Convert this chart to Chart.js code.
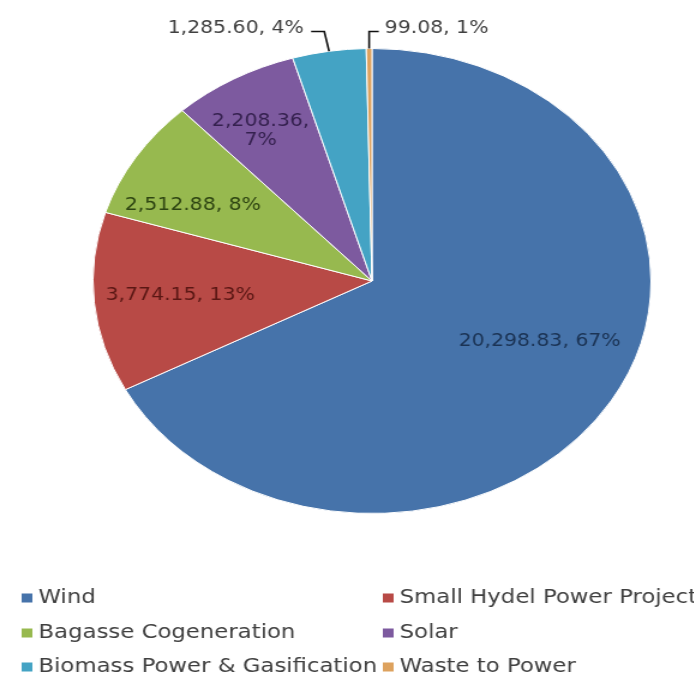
<!DOCTYPE html>
<html>
<head>
<meta charset="utf-8">
<script src="https://cdn.jsdelivr.net/npm/chart.js@4.4.1/dist/chart.umd.min.js"></script>
<style>
    html, body { margin: 0; padding: 0; background: #fff; overflow: hidden; }
    /* the source picture is stretched sideways, so the whole chart is too */
    #wrap { width: 578px; height: 686px; transform: scaleX(1.2); transform-origin: 0 0; }
</style>
</head>
<body>
<div id="wrap"><canvas id="powerChart" width="578" height="686"></canvas></div>
<script>
const sources = ['Wind', 'Small Hydel Power Projects', 'Bagasse Cogeneration', 'Solar', 'Biomass Power & Gasification', 'Waste to Power'];
const capacity = [20298.83, 3774.15, 2512.88, 2208.36, 1285.60, 99.08];
const shares = [67, 13, 8, 7, 4, 1];

const sliceColors = ['#4673AA', '#B84A46', '#97B94F', '#7D5A9F', '#44A3C4', '#DDA25E'];
const labelColors = ['#1B3354', '#5A1714', '#2E4512', '#35214F', '#404040', '#404040'];

// where each value label sits: fraction of radius + turn from the slice middle (deg)
const labelSpots = [
    { frac: 0.655, turn: -7.6 },
    { frac: 0.69, turn: 0.3 },
    { frac: 0.72, turn: -5.2 },
    { frac: 0.76, turn: -2, wrap: true },
    { outside: 'left' },
    { outside: 'right' }
];

const LABEL_FONT = '17px "DejaVu Sans"';
const LEGEND_FONT = '19px "DejaVu Sans"';

function fmt(v) {
    return v.toLocaleString('en-US', { minimumFractionDigits: 2, maximumFractionDigits: 2 });
}

const sliceLabels = {
    id: 'sliceLabels',
    afterDatasetsDraw(chart) {
        const ctx = chart.ctx;
        const arcs = chart.getDatasetMeta(0).data;
        ctx.save();
        ctx.font = LABEL_FONT;
        ctx.textBaseline = 'middle';
        arcs.forEach((arc, i) => {
            const p = arc.getProps(['x', 'y', 'startAngle', 'endAngle', 'outerRadius'], true);
            const mid = (p.startAngle + p.endAngle) / 2;
            const spot = labelSpots[i];
            const text = fmt(capacity[i]) + ', ' + shares[i] + '%';
            ctx.fillStyle = labelColors[i];
            if (spot.outside) {
                const ex = p.x + Math.cos(mid) * p.outerRadius;
                const ey = p.y + Math.sin(mid) * p.outerRadius;
                const elbowY = p.y - p.outerRadius - 17;
                ctx.strokeStyle = '#111';
                ctx.lineWidth = 1.6;
                ctx.beginPath();
                ctx.moveTo(ex, ey);
                if (spot.outside === 'left') {
                    ctx.lineTo(ex - 4, elbowY);
                    ctx.lineTo(ex - 15, elbowY);
                    ctx.stroke();
                    ctx.textAlign = 'right';
                    ctx.fillText(text, ex - 21, elbowY - 3);
                } else {
                    ctx.lineTo(ex, elbowY);
                    ctx.lineTo(ex + 8, elbowY);
                    ctx.stroke();
                    ctx.textAlign = 'left';
                    ctx.fillText(text, ex + 13, elbowY - 3);
                }
                return;
            }
            const a = mid + spot.turn * Math.PI / 180;
            const r = p.outerRadius * spot.frac;
            const lx = p.x + Math.cos(a) * r;
            const ly = p.y + Math.sin(a) * r;
            ctx.textAlign = 'center';
            if (spot.wrap) {
                ctx.fillText(fmt(capacity[i]) + ',', lx, ly - 9.5);
                ctx.fillText(shares[i] + '%', lx, ly + 9.5);
            } else {
                ctx.fillText(text, lx, ly);
            }
        });
        ctx.restore();
    }
};

// two-column legend under the pie
const gridLegend = {
    id: 'gridLegend',
    afterDraw(chart) {
        const ctx = chart.ctx;
        const colX = [18, 319];
        const rowY = [598, 633, 667];
        ctx.save();
        ctx.font = LEGEND_FONT;
        ctx.textBaseline = 'middle';
        ctx.textAlign = 'left';
        chart.data.labels.forEach((name, i) => {
            const x = colX[i % 2];
            const y = rowY[Math.floor(i / 2)];
            ctx.fillStyle = chart.data.datasets[0].backgroundColor[i];
            ctx.fillRect(x, y - 4.5, 9, 9);
            ctx.fillStyle = '#404040';
            ctx.fillText(name, x + 14, y);
        });
        ctx.restore();
    }
};

new Chart(document.getElementById('powerChart').getContext('2d'), {
    type: 'pie',
    data: {
        labels: sources,
        datasets: [{
            data: capacity,
            backgroundColor: sliceColors,
            borderColor: '#ffffff',
            borderWidth: 1
        }]
    },
    options: {
        responsive: false,
        animation: false,
        layout: { padding: { left: 77, right: 35, top: 48, bottom: 172 } },
        plugins: {
            legend: { display: false },
            tooltip: { enabled: false }
        }
    },
    plugins: [sliceLabels, gridLegend]
});
</script>
</body>
</html>
